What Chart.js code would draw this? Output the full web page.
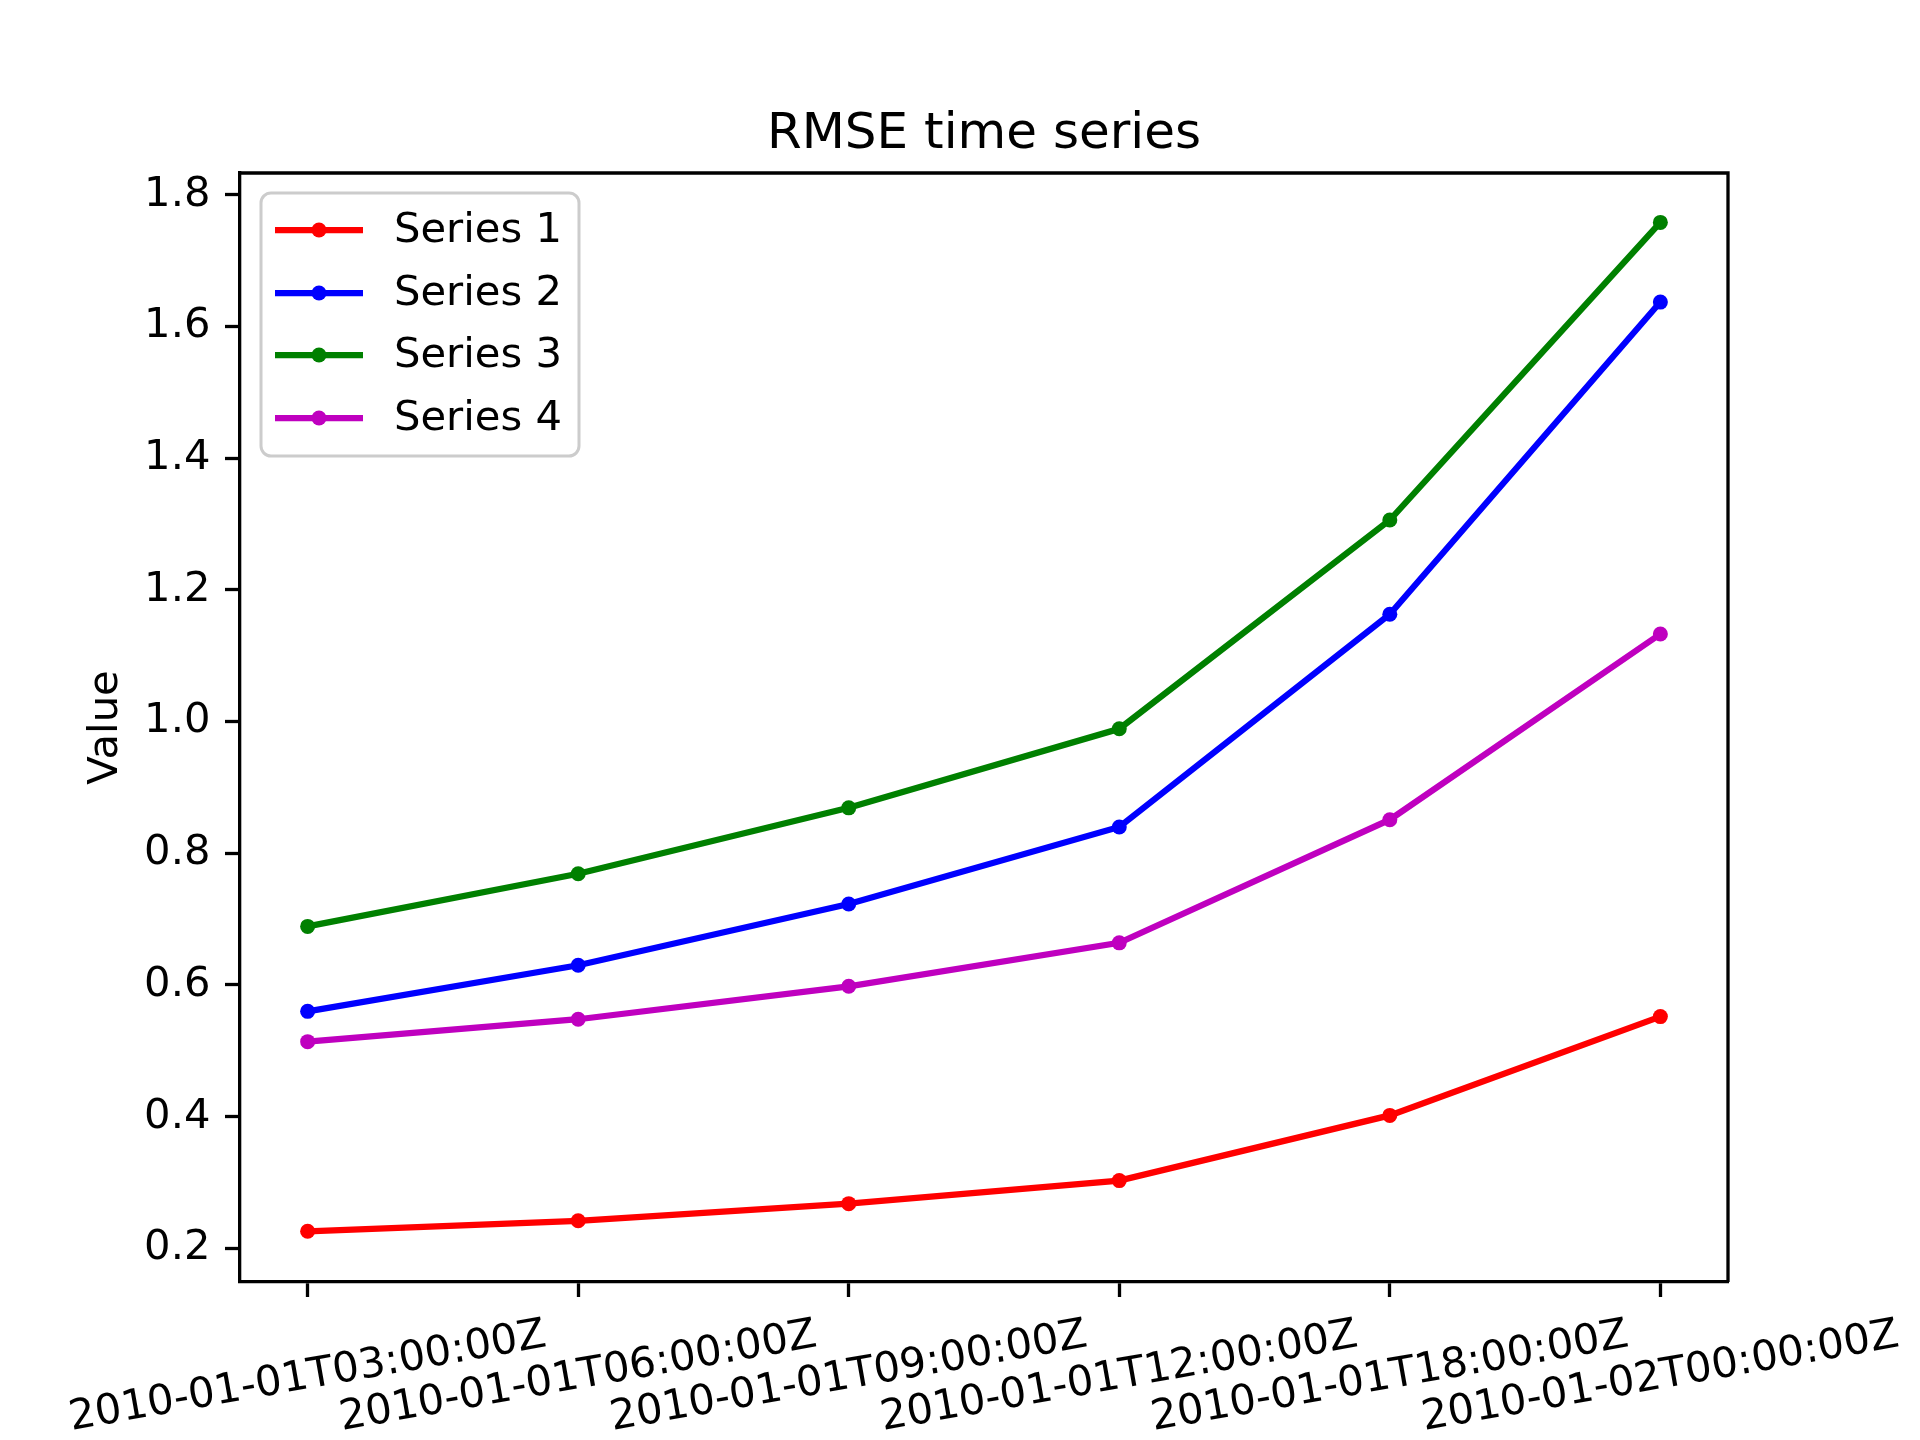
<!DOCTYPE html>
<html>
<head>
  <script src="https://cdn.jsdelivr.net/npm/chart.js@4.4.0/dist/chart.umd.min.js"></script>
  <style>
    body { margin: 0; background: #fff; }
    canvas { display: block; }
  </style>
</head>
<body>

<canvas id="rmseChart" width="1920" height="1440"></canvas>

<script>
var categories = ["2010-01-01T03:00:00Z", "2010-01-01T06:00:00Z", "2010-01-01T09:00:00Z",
                  "2010-01-01T12:00:00Z", "2010-01-01T18:00:00Z", "2010-01-02T00:00:00Z"];
var series1 = [0.226, 0.242, 0.268, 0.303, 0.402, 0.552];
var series2 = [0.560, 0.630, 0.723, 0.840, 1.163, 1.637];
var series3 = [0.689, 0.769, 0.869, 0.989, 1.306, 1.758];
var series4 = [0.514, 0.548, 0.598, 0.664, 0.851, 1.133];
var seriesNames = ["Series 1", "Series 2", "Series 3", "Series 4"];
var seriesColors = ["#ff0000", "#0000ff", "#008000", "#bf00bf"];
var yTicks = [0.2, 0.4, 0.6, 0.8, 1.0, 1.2, 1.4, 1.6, 1.8];

var FONT = "DejaVu Sans";
var FS = 41.7;

function toPoints(arr) {
  return arr.map(function(v, i) { return { x: i, y: v }; });
}

var allSeries = [series1, series2, series3, series4];
var datasets = allSeries.map(function(s, k) {
  return {
    label: seriesNames[k],
    data: toPoints(s),
    borderColor: seriesColors[k],
    backgroundColor: seriesColors[k],
    borderWidth: 6.25,
    pointRadius: 7.5,
    pointBorderWidth: 0,
    pointBackgroundColor: seriesColors[k],
    tension: 0,
    clip: false
  };
});

// matplotlib-like extras: spines, title, y label, rotated x labels, legend
var mplPlugin = {
  id: "mpl",
  afterDraw: function(chart) {
    var ctx = chart.ctx;
    var a = chart.chartArea;
    ctx.save();

    // top and right spines
    ctx.strokeStyle = "#000";
    ctx.lineWidth = 3.3;
    ctx.beginPath();
    ctx.moveTo(a.left, a.top);
    ctx.lineTo(a.right, a.top);
    ctx.lineTo(a.right, a.bottom);
    ctx.stroke();

    // title
    ctx.fillStyle = "#000";
    ctx.font = "50px '" + FONT + "'";
    ctx.textAlign = "center";
    ctx.textBaseline = "alphabetic";
    ctx.fillText("RMSE time series", (a.left + a.right) / 2, 148);

    // y label
    ctx.font = FS + "px '" + FONT + "'";
    ctx.save();
    ctx.translate(106, (a.top + a.bottom) / 2);
    ctx.rotate(-Math.PI / 2);
    ctx.textAlign = "center";
    ctx.textBaseline = "middle";
    ctx.fillText("Value", 0, 0);
    ctx.restore();

    // x tick labels, rotated 10 deg counter-clockwise
    var xs = chart.scales.x;
    var th = 10 * Math.PI / 180;
    var h = FS * 1.16;
    var topY = a.bottom + 15 + 14.6;
    categories.forEach(function(lbl, i) {
      var px = xs.getPixelForValue(i);
      var w = ctx.measureText(lbl).width;
      var H = w * Math.sin(th) + h * Math.cos(th);
      ctx.save();
      ctx.translate(px, topY + H / 2);
      ctx.rotate(-th);
      ctx.textAlign = "center";
      ctx.textBaseline = "middle";
      ctx.fillText(lbl, 0, 0);
      ctx.restore();
    });

    // legend
    var bx = 261, by = 193, bw = 318, bh = 263, r = 10;
    ctx.beginPath();
    ctx.roundRect(bx, by, bw, bh, r);
    ctx.fillStyle = "rgba(255,255,255,0.8)";
    ctx.fill();
    ctx.strokeStyle = "#cccccc";
    ctx.lineWidth = 3;
    ctx.stroke();
    var rows = [230, 293, 355, 418];
    seriesNames.forEach(function(name, k) {
      var y = rows[k];
      ctx.strokeStyle = seriesColors[k];
      ctx.lineWidth = 6.25;
      ctx.beginPath();
      ctx.moveTo(275, y);
      ctx.lineTo(363, y);
      ctx.stroke();
      ctx.fillStyle = seriesColors[k];
      ctx.beginPath();
      ctx.arc(319, y, 7.5, 0, Math.PI * 2);
      ctx.fill();
      ctx.fillStyle = "#000";
      ctx.font = FS + "px '" + FONT + "'";
      ctx.textAlign = "left";
      ctx.textBaseline = "middle";
      ctx.fillText(name, 394, y + 1);
    });

    ctx.restore();
  }
};

var ctx = document.getElementById("rmseChart").getContext("2d");
var rmseChart = new Chart(ctx, {
  type: "line",
  data: { datasets: datasets },
  plugins: [mplPlugin],
  options: {
    responsive: false,
    animation: false,
    devicePixelRatio: 1,
    layout: { padding: { top: 173, right: 192, left: 0, bottom: 0 } },
    plugins: {
      legend: { display: false },
      title: { display: false },
      tooltip: { enabled: false }
    },
    scales: {
      x: {
        type: "linear",
        min: -0.25,
        max: 5.25,
        afterBuildTicks: function(s) {
          s.ticks = categories.map(function(c, i) { return { value: i }; });
        },
        afterFit: function(s) { s.height = 158; },
        grid: { display: true, drawOnChartArea: false, drawTicks: true,
                tickLength: 15, tickWidth: 3.3, tickColor: "#000" },
        border: { display: true, color: "#000", width: 3.3 },
        ticks: { display: false }
      },
      y: {
        type: "linear",
        min: 0.149,
        max: 1.833,
        afterBuildTicks: function(s) {
          s.ticks = yTicks.map(function(v) { return { value: v }; });
        },
        afterFit: function(s) { s.width = 240; },
        grid: { display: true, drawOnChartArea: false, drawTicks: true,
                tickLength: 15, tickWidth: 3.3, tickColor: "#000" },
        border: { display: true, color: "#000", width: 3.3 },
        ticks: {
          color: "#000",
          padding: 14.6,
          font: { family: FONT, size: FS },
          callback: function(v) { return Number(v).toFixed(1); }
        }
      }
    }
  }
});
</script>

</body>
</html>
